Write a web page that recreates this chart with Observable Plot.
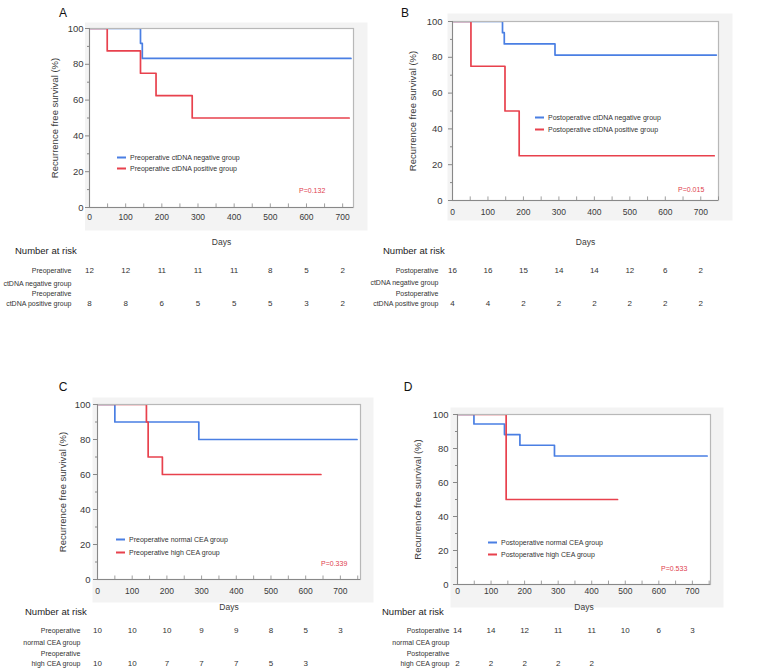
<!DOCTYPE html>
<html><head><meta charset="utf-8">
<script src="https://cdn.jsdelivr.net/npm/d3@7"></script>
<script src="https://cdn.jsdelivr.net/npm/@observablehq/plot@0.6"></script>
<style>
body{margin:0;background:#fff;font-family:"Liberation Sans",Arial,Helvetica,sans-serif;}
#root{position:relative;width:760px;height:671px;overflow:hidden;background:#fff;}
.abs{position:absolute;}
.letter{font-size:12px;color:#111;transform:translate(-50%,-50%);line-height:1;}
.nar{font-size:9.5px;color:#222;transform:translateY(-50%);line-height:1;white-space:nowrap;}
.leg{font-size:7px;color:#333;display:flex;align-items:center;white-space:nowrap;transform:translateY(-50%);line-height:1;}
.sw{display:inline-block;width:9px;height:2px;margin-right:4px;}
.pv{font-size:7px;color:#e0404e;transform:translateY(-50%);line-height:1;white-space:nowrap;}
</style></head><body><div id="root"></div>
<script>
// ---------- shared ticks ----------
const days = [0,100,200,300,400,500,600,700];
const dayMinor = [0,50,100,150,200,250,300,350,400,450,500,550,600,650,700,750];
const yTicks = [0,20,40,60,80,100];
const yMinor = [10,30,50,70,90];
const blue = "#4a7fe3";
const red = "#e8414d";

// ---------- Panel A ----------
const aTimesNeg = [0,141,146,723];
const aSurvNeg  = [100,91.7,83.3,83.3];
const aTimesPos = [0,49,141,184,284,718];
const aSurvPos  = [100,87.5,75,62.5,50,50];
const aRiskNeg = [12,12,11,11,11,8,5,2];
const aRiskPos = [8,8,6,5,5,5,3,2];
const aLabelNeg = ["Preoperative","ctDNA negative group"];
const aLabelPos = ["Preoperative","ctDNA positive group"];
const aLegend = ["Preoperative ctDNA negative group","Preoperative ctDNA positive group"];
const aP = "P=0.132";

// ---------- Panel B ----------
const bTimesNeg = [0,141,146,289,744];
const bSurvNeg  = [100,93.75,87.5,81.25,81.25];
const bTimesPos = [0,52,148,188,738];
const bSurvPos  = [100,75,50,25,25];
const bRiskNeg = [16,16,15,14,14,12,6,2];
const bRiskPos = [4,4,2,2,2,2,2,2];
const bLabelNeg = ["Postoperative","ctDNA negative group"];
const bLabelPos = ["Postoperative","ctDNA positive group"];
const bLegend = ["Postoperative ctDNA negative group","Postoperative ctDNA positive group"];
const bP = "P=0.015";

// ---------- Panel C ----------
const cTimesNeg = [0,50,292,748];
const cSurvNeg  = [100,90,80,80];
const cTimesPos = [0,141,146,187,644];
const cSurvPos  = [100,90,70,60,60];
const cRiskNeg = [10,10,10,9,9,8,5,3];
const cRiskPos = [10,10,7,7,7,5,3];
const cLabelNeg = ["Preoperative","normal CEA group"];
const cLabelPos = ["Preoperative","high CEA group"];
const cLegend = ["Preoperative normal CEA group","Preoperative high CEA group"];
const cP = "P=0.339";

// ---------- Panel D ----------
const dTimesNeg = [0,49,140,186,289,744];
const dSurvNeg  = [100,94.4,88.2,81.9,75.6,75.6];
const dTimesPos = [0,145,477];
const dSurvPos  = [100,50,50];
const dRiskNeg = [14,14,12,11,11,10,6,3];
const dRiskPos = [2,2,2,2,2];
const dLabelNeg = ["Postoperative","normal CEA group"];
const dLabelPos = ["Postoperative","high CEA group"];
const dLegend = ["Postoperative normal CEA group","Postoperative high CEA group"];
const dP = "P=0.533";

// ---------- layout (positions only) ----------
const panels = [
  {letter:"A", lx:63, ly:13, left:0, top:0, w:380, h:246, mt:28, mb:39, ml:89, mr:27, xmax:730,
   bg:[-4.5,-14,-6,-23], xpad:6.5, xlab:37, ypad:2, ylab:38.5,
   tTop:245, tH:70, tmt:25, tmb:12, ldx:-18, l1dy:13, l2dy:-10,
   nar:[15,251], leg:[117,157,168], p:[299,190],
   tn:aTimesNeg, sn:aSurvNeg, tp:aTimesPos, sp:aSurvPos, rn:aRiskNeg, rp:aRiskPos,
   labN:aLabelNeg, labP:aLabelPos, legend:aLegend, pv:aP},
  {letter:"B", lx:405, ly:13, left:380, top:0, w:380, h:246, mt:21, mb:46, ml:72, mr:42, xmax:750,
   bg:[-5,-14,-8,-20], xpad:8.5, xlab:44, ypad:6, ylab:43.5,
   tTop:245, tH:70, tmt:25, tmb:12, ldx:-14, l1dy:12, l2dy:-10,
   nar:[383,251], leg:[535,117,129], p:[678,189],
   tn:bTimesNeg, sn:bSurvNeg, tp:bTimesPos, sp:bSurvPos, rn:bRiskNeg, rp:bRiskPos,
   labN:bLabelNeg, labP:bLabelPos, legend:bLegend, pv:bP},
  {letter:"C", lx:63, ly:387, left:0, top:380, w:380, h:235, mt:24, mb:36, ml:97, mr:20, xmax:758,
   bg:[-5,-13,-7,-23], xpad:8.5, xlab:30, ypad:3, ylab:38.5,
   tTop:615, tH:56, tmt:15, tmb:8, ldx:-17, l1dy:12, l2dy:-10,
   nar:[25,612], leg:[116,539,552], p:[321,563],
   tn:cTimesNeg, sn:cSurvNeg, tp:cTimesPos, sp:cSurvPos, rn:cRiskNeg, rp:cRiskPos,
   labN:cLabelNeg, labP:cLabelPos, legend:cLegend, pv:cP},
  {letter:"D", lx:408, ly:387, left:380, top:380, w:380, h:235, mt:34, mb:31, ml:77, mr:50, xmax:754,
   bg:[-7,-13,-7,-23], xpad:3.5, xlab:25, ypad:5, ylab:43.5,
   tTop:615, tH:56, tmt:15, tmb:8, ldx:-8, l1dy:12, l2dy:-10,
   nar:[382,612], leg:[488,542,554], p:[661,568],
   tn:dTimesNeg, sn:dSurvNeg, tp:dTimesPos, sp:dSurvPos, rn:dRiskNeg, rp:dRiskPos,
   labN:dLabelNeg, labP:dLabelPos, legend:dLegend, pv:dP}
];

const root = document.getElementById("root");
const font = '"Liberation Sans",Arial,Helvetica,sans-serif';

function place(el, left, top){
  const d = document.createElement("div");
  d.className = "abs"; d.style.left = left+"px"; d.style.top = top+"px";
  d.appendChild(el); root.appendChild(d); return d;
}
function htmlText(cls, txt, x, y){
  const d = document.createElement("div");
  d.className = "abs " + cls; d.style.left = x+"px"; d.style.top = y+"px";
  d.textContent = txt; root.appendChild(d); return d;
}

for (const P of panels) {
  const neg = P.tn.map((t,i)=>({t, s:P.sn[i]}));
  const pos = P.tp.map((t,i)=>({t, s:P.sp[i]}));
  const chart = Plot.plot({
    width:P.w, height:P.h, marginTop:P.mt, marginBottom:P.mb, marginLeft:P.ml, marginRight:P.mr,
    style:{background:"transparent", fontFamily:font, color:"#3a3a3a", overflow:"visible"},
    x:{domain:[0,P.xmax]},
    y:{domain:[0,100]},
    marks:[
      Plot.frame({fill:"#f3f3f3", stroke:null, insetLeft:P.bg[0], insetRight:P.bg[1], insetTop:P.bg[2], insetBottom:P.bg[3]}),
      Plot.frame({fill:"#fff", stroke:null}),
      Plot.line(neg, {x:"t", y:"s", curve:"step-after", stroke:blue, strokeWidth:1.7, clip:true}),
      Plot.line(pos, {x:"t", y:"s", curve:"step-after", stroke:red, strokeWidth:1.7, clip:true}),
      Plot.frame({stroke:"#b8b8b8", strokeWidth:1.2}),
      Plot.ruleX(dayMinor.filter(d=>d<=P.xmax), {y1:0, y2:2, stroke:"#888", strokeWidth:0.8}),
      Plot.axisX(days, {tickSize:0, tickPadding:P.xpad, fontSize:8.5, label:"Days", labelAnchor:"center", labelArrow:"none", labelOffset:P.xlab}),
      Plot.axisY(yMinor, {tickSize:2, tickFormat:()=>"", label:null, stroke:"#888"}),
      Plot.axisY(yTicks, {tickSize:4, tickPadding:P.ypad, fontSize:9.5, stroke:"#888", label:"Recurrence free survival (%)", labelAnchor:"center", labelArrow:"none", labelOffset:P.ylab}),
      Plot.ruleY([0], {stroke:"#888"}),
      Plot.ruleX([0], {stroke:"#888"})
    ]
  });
  place(chart, P.left, P.top);

  const rowN = P.rn.map((n,i)=>({t:days[i], n, r:"r1"}));
  const rowP = P.rp.map((n,i)=>({t:days[i], n, r:"r2"}));
  const table = Plot.plot({
    width:P.w, height:P.tH, marginTop:P.tmt, marginBottom:P.tmb, marginLeft:P.ml, marginRight:P.mr,
    style:{background:"transparent", fontFamily:font, color:"#333", overflow:"visible"},
    x:{domain:[0,P.xmax], axis:null},
    y:{type:"point", domain:["r1","r2"], padding:0, axis:null},
    marks:[
      Plot.text(rowN, {x:"t", y:"r", text:"n", fontSize:8, fill:"#333"}),
      Plot.text(rowP, {x:"t", y:"r", text:"n", fontSize:8, fill:"#333"}),
      Plot.text([P.labN[0]], {y:()=>"r1", text:d=>d, frameAnchor:"left", textAnchor:"end", dx:P.ldx, fontSize:7, fill:"#333"}),
      Plot.text([P.labN[1]], {y:()=>"r1", text:d=>d, frameAnchor:"left", textAnchor:"end", dx:P.ldx, dy:P.l1dy, fontSize:7, fill:"#333"}),
      Plot.text([P.labP[0]], {y:()=>"r2", text:d=>d, frameAnchor:"left", textAnchor:"end", dx:P.ldx, dy:P.l2dy, fontSize:7, fill:"#333"}),
      Plot.text([P.labP[1]], {y:()=>"r2", text:d=>d, frameAnchor:"left", textAnchor:"end", dx:P.ldx, fontSize:7, fill:"#333"})
    ]
  });
  place(table, P.left, P.tTop);

  htmlText("letter", P.letter, P.lx, P.ly);
  htmlText("nar", "Number at risk", P.nar[0], P.nar[1]);
  [[P.legend[0], blue, P.leg[1]], [P.legend[1], red, P.leg[2]]].forEach(([txt, col, y])=>{
    const d = document.createElement("div");
    d.className = "abs leg"; d.style.left = P.leg[0]+"px"; d.style.top = y+"px";
    const sw = document.createElement("span"); sw.className = "sw"; sw.style.background = col;
    const tx = document.createElement("span"); tx.textContent = txt;
    d.appendChild(sw); d.appendChild(tx); root.appendChild(d);
  });
  htmlText("pv", P.pv, P.p[0], P.p[1]);
}
</script></body></html>
